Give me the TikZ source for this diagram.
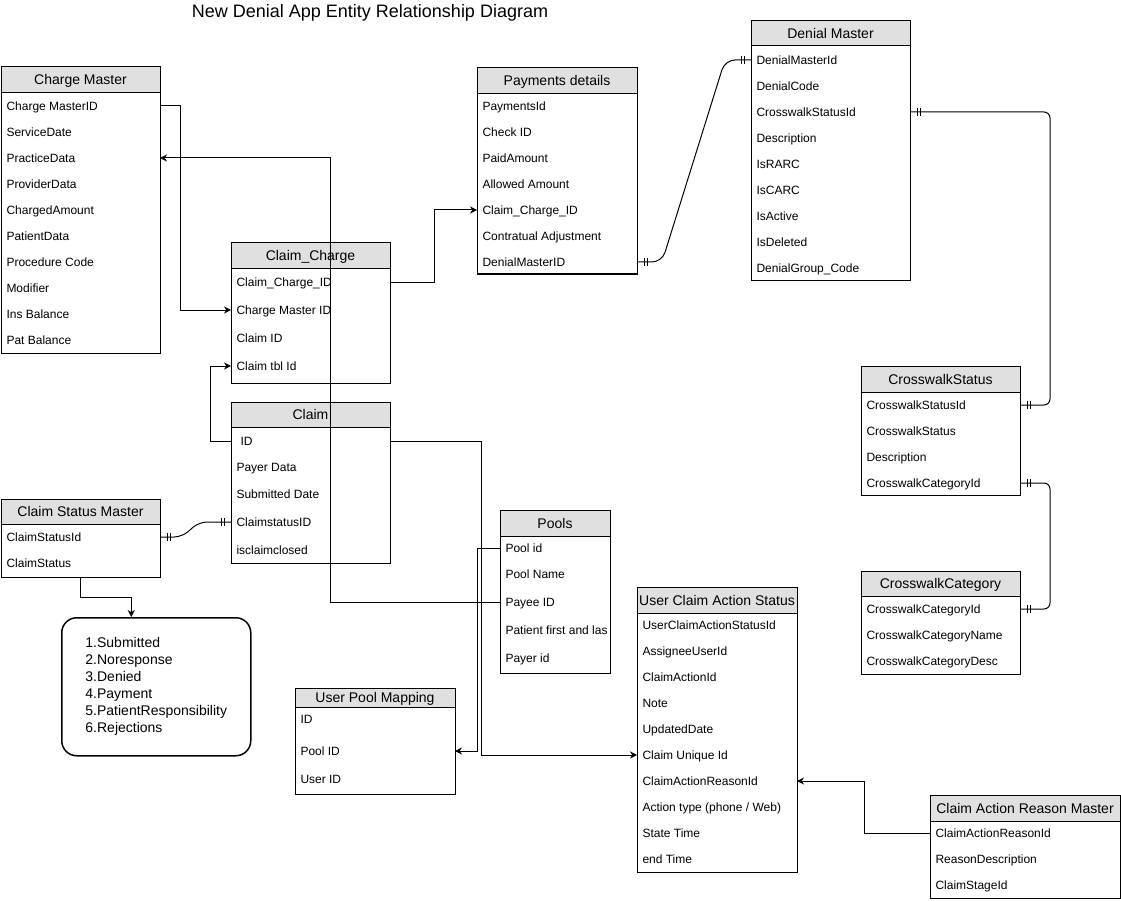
\documentclass[tikz,border=0pt]{standalone}
\usepackage{fontspec}
\setmainfont{Liberation Sans}
\usetikzlibrary{shapes,arrows.meta,positioning,calc,decorations.markings}
\definecolor{hdrgray}{HTML}{E0E0E0}
\newcommand{\rowfont}{\fontsize{12pt}{14pt}\selectfont}
\newcommand{\hdrfont}{\fontsize{14pt}{16pt}\selectfont}

\begin{document}
\begin{tikzpicture}[x=1pt, y=-1pt, line width=1pt,
  hdr/.style={draw, fill=hdrgray, font=\hdrfont, anchor=north west, inner sep=0pt, outer sep=0pt,
    text height=11.5pt, text depth=1.5pt},
  tbl/.style={draw, fill=white, anchor=north west, inner sep=0pt, outer sep=0pt},
  fld/.style={anchor=west, inner xsep=5pt, inner ysep=1pt, font=\rowfont,
    text height=10pt, text depth=1.5pt},
  link/.style={-{Stealth[length=7pt,width=7pt]}},
  erone/.style={postaction={decorate, decoration={markings,
    mark=at position 7pt with {\draw[line width=0.8pt] (0,-4pt) -- (0,4pt);},
    mark=at position 10pt with {\draw[line width=0.8pt] (0,-4pt) -- (0,4pt);},
    mark=at position -7pt with {\draw[line width=0.8pt] (0,-4pt) -- (0,4pt);},
    mark=at position -10pt with {\draw[line width=0.8pt] (0,-4pt) -- (0,4pt);}}}}]
\useasboundingbox (0,0) rectangle (1121,901);

% 标题
\node[font=\fontsize{18pt}{20pt}\selectfont] (title) at (370,13) {New Denial App Entity Relationship Diagram};

% Charge Master
\node[hdr, minimum width=159pt, minimum height=26pt] (cm) at (1,67) {Charge Master};
\node[tbl, minimum width=159pt, minimum height=260pt] (cm-body) at (cm.south west) {};
\node[fld] (cm-id) at (1,106) {Charge MasterID};
\node[fld] (cm-date) at (1,132) {ServiceDate};
\node[fld] (cm-prac) at (1,158) {PracticeData};
\node[fld] (cm-prov) at (1,184) {ProviderData};
\node[fld] (cm-amt) at (1,210) {ChargedAmount};
\node[fld] (cm-pat) at (1,236) {PatientData};
\node[fld] (cm-proc) at (1,262) {Procedure Code};
\node[fld] (cm-mod) at (1,288) {Modifier};
\node[fld] (cm-ins) at (1,314) {Ins Balance};
\node[fld] (cm-bal) at (1,340) {Pat Balance};

% Claim_Charge
\node[hdr, minimum width=159pt, minimum height=26pt] (cc) at (231,243) {Claim\_Charge};
\node[tbl, minimum width=159pt, minimum height=114pt] (cc-body) at (cc.south west) {};
\node[fld] (cc-id) at (231,282) {Claim\_Charge\_ID};
\node[fld] (cc-cmid) at (231,310) {Charge Master ID};
\node[fld] (cc-claim) at (231,338) {Claim ID};
\node[fld] (cc-tbl) at (231,366) {Claim tbl Id};

% Claim
\node[hdr, minimum width=159pt, minimum height=25pt] (cl) at (231,402) {Claim};
\node[tbl, minimum width=159pt, minimum height=136pt] (cl-body) at (cl.south west) {};
\node[fld] (cl-id) at (235,441) {ID};
\node[fld] (cl-payer) at (231,467) {Payer Data};
\node[fld] (cl-date) at (231,494) {Submitted Date};
\node[fld] (cl-stat) at (231,522) {ClaimstatusID};
\node[fld] (cl-closed) at (231,550) {isclaimclosed};

% Payments details
\node[hdr, minimum width=160pt, minimum height=26pt] (pd) at (477,68) {Payments details};
\node[tbl, minimum width=160pt, minimum height=180pt] (pd-body) at (pd.south west) {};
\node[fld] (pd-id) at (477,106) {PaymentsId};
\node[fld] (pd-check) at (477,132) {Check ID};
\node[fld] (pd-paid) at (477,158) {PaidAmount};
\node[fld] (pd-allow) at (477,184) {Allowed Amount};
\node[fld] (pd-ccid) at (477,210) {Claim\_Charge\_ID};
\node[fld] (pd-adj) at (477,236) {Contratual Adjustment};
\node[fld] (pd-dmid) at (477,262) {DenialMasterID};

% Denial Master
\node[hdr, minimum width=159pt, minimum height=25pt] (dm) at (751,21) {Denial Master};
\node[tbl, minimum width=159pt, minimum height=234pt] (dm-body) at (dm.south west) {};
\node[fld] (dm-id) at (751,60) {DenialMasterId};
\node[fld] (dm-code) at (751,86) {DenialCode};
\node[fld] (dm-csid) at (751,112) {CrosswalkStatusId};
\node[fld] (dm-desc) at (751,138) {Description};
\node[fld] (dm-rarc) at (751,164) {IsRARC};
\node[fld] (dm-carc) at (751,190) {IsCARC};
\node[fld] (dm-act) at (751,216) {IsActive};
\node[fld] (dm-del) at (751,242) {IsDeleted};
\node[fld] (dm-grp) at (751,268) {DenialGroup\_Code};

% CrosswalkStatus
\node[hdr, minimum width=159pt, minimum height=26pt] (cs) at (861,366) {CrosswalkStatus};
\node[tbl, minimum width=159pt, minimum height=103pt] (cs-body) at (cs.south west) {};
\node[fld] (cs-id) at (861,405) {CrosswalkStatusId};
\node[fld] (cs-stat) at (861,431) {CrosswalkStatus};
\node[fld] (cs-desc) at (861,457) {Description};
\node[fld] (cs-catid) at (861,483) {CrosswalkCategoryId};

% CrosswalkCategory
\node[hdr, minimum width=159pt, minimum height=25pt] (cg) at (861,571) {CrosswalkCategory};
\node[tbl, minimum width=159pt, minimum height=78pt] (cg-body) at (cg.south west) {};
\node[fld] (cg-id) at (861,609) {CrosswalkCategoryId};
\node[fld] (cg-name) at (861,635) {CrosswalkCategoryName};
\node[fld] (cg-desc) at (861,661) {CrosswalkCategoryDesc};

% Claim Status Master
\node[hdr, minimum width=159pt, minimum height=25pt] (csm) at (1,499) {Claim Status Master};
\node[tbl, minimum width=159pt, minimum height=53pt] (csm-body) at (csm.south west) {};
\node[fld] (csm-id) at (1,537) {ClaimStatusId};
\node[fld] (csm-stat) at (1,563) {ClaimStatus};

% 状态列表
\node[draw, line width=1.5pt, rounded corners=15pt, minimum width=189pt, minimum height=138pt,
  anchor=north west, align=left, font=\fontsize{14pt}{17pt}\selectfont] (status) at (61,617)
  {1.Submitted\\2.Noresponse\\3.Denied\\4.Payment\\5.PatientResponsibility\\6.Rejections};

% Pools
\node[hdr, minimum width=110pt, minimum height=26pt] (pl) at (500,510) {Pools};
\node[tbl, minimum width=110pt, minimum height=137pt] (pl-body) at (pl.south west) {};
\node[fld] (pl-id) at (500,548) {Pool id};
\node[fld] (pl-name) at (500,574) {Pool Name};
\node[fld] (pl-payee) at (500,602) {Payee ID};
\node[fld] (pl-pat) at (500,630) {Patient first and las};
\node[fld] (pl-payer) at (500,658) {Payer id};

% User Claim Action Status
\node[hdr, minimum width=160pt, minimum height=26pt] (ucas) at (637,587) {User Claim Action Status};
\node[tbl, minimum width=160pt, minimum height=259pt] (ucas-body) at (ucas.south west) {};
\node[fld] (ucas-id) at (637,625) {UserClaimActionStatusId};
\node[fld] (ucas-user) at (637,651) {AssigneeUserId};
\node[fld] (ucas-act) at (637,677) {ClaimActionId};
\node[fld] (ucas-note) at (637,703) {Note};
\node[fld] (ucas-upd) at (637,729) {UpdatedDate};
\node[fld] (ucas-cuid) at (637,755) {Claim Unique Id};
\node[fld] (ucas-reason) at (637,781) {ClaimActionReasonId};
\node[fld] (ucas-type) at (637,807) {Action type (phone / Web)};
\node[fld] (ucas-start) at (637,833) {State Time};
\node[fld] (ucas-end) at (637,859) {end Time};

% User Pool Mapping
\node[hdr, minimum width=160pt, minimum height=19pt] (upm) at (295,688) {User Pool Mapping};
\node[tbl, minimum width=160pt, minimum height=87pt] (upm-body) at (upm.south west) {};
\node[fld] (upm-id) at (295,719) {ID};
\node[fld] (upm-pid) at (295,751) {Pool ID};
\node[fld] (upm-uid) at (295,779) {User ID};

% Claim Action Reason Master
\node[hdr, minimum width=190pt, minimum height=26pt] (carm) at (930,795) {Claim Action Reason Master};
\node[tbl, minimum width=190pt, minimum height=77pt] (carm-body) at (carm.south west) {};
\node[fld] (carm-id) at (930,833) {ClaimActionReasonId};
\node[fld] (carm-desc) at (930,859) {ReasonDescription};
\node[fld] (carm-stage) at (930,885) {ClaimStageId};

% 连接线
\draw[link] (cm-id -| cm.east) -- ++(20,0) |- (cc-cmid -| cc.west);
\draw[link] (pl-payee -| pl.west) -- ++(-170,0) |- (cm-prac -| cm.east);
\draw[link] (cl-id -| cl.west) -- ++(-21,0) |- (cc-tbl -| cc.west);
\draw[link] (cc-id -| cc.east) -- ++(44,0) |- (pd-ccid -| pd.west);
\draw[link] (cl-id -| cl.east) -- ++(91,0) |- (ucas-cuid -| ucas.west);
\draw[link] (pl-id -| pl.west) -- ++(-23,0) |- (upm-pid -| upm.east);
\draw[link] (carm-id -| carm.west) -- ++(-66,0) |- (ucas-reason -| ucas.east);
\draw[link] (csm-body.south) -- ++(0,20) -| ($(status.north)+(-25,0)$);

% 一对一关系
\draw[erone, rounded corners=10pt] (pd-dmid -| pd.east) -- ++(25,0) -- ($(dm-id -| dm.west)+(-26,0)$) -- (dm-id -| dm.west);
\draw[erone, rounded corners=6pt] (dm-csid -| dm.east) -- ++(140,0) |- (cs-id -| cs.east);
\draw[erone, rounded corners=6pt] (cs-catid -| cs.east) -- ++(30,0) |- (cg-id -| cg.east);
\draw[erone, rounded corners=8pt] (csm-id -| csm.east) -- ++(22,0) -- ($(cl-stat -| cl.west)+(-32,0)$) -- (cl-stat -| cl.west);
\end{tikzpicture}
\end{document}
